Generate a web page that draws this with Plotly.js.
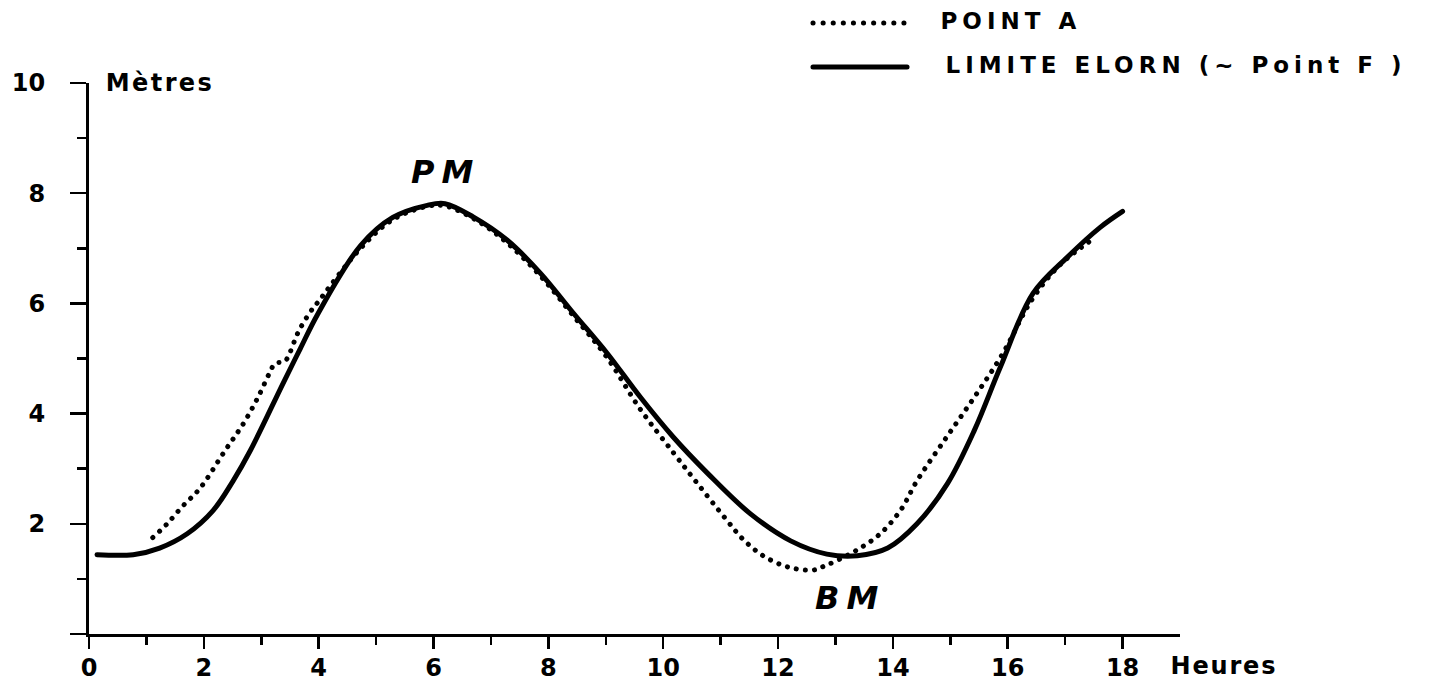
<!DOCTYPE html>
<html>
<head>
<meta charset="utf-8">
<script src="https://cdn.plot.ly/plotly-3.0.1.min.js"></script>
<style>
  html, body { margin: 0; padding: 0; background: #fff; }
  #chart { width: 1438px; height: 684px; }
  .js-line { stroke-linecap: round; stroke-linejoin: round; }
  .shapelayer path { stroke-linecap: round; }
  .annotation[data-index="0"] .annotation-text { letter-spacing: 2.4px; }
  .annotation[data-index="1"] .annotation-text { letter-spacing: 1.8px; }
  .annotation[data-index="2"] .annotation-text { letter-spacing: 7px; }
  .annotation[data-index="3"] .annotation-text { letter-spacing: 7px; }
  .annotation[data-index="4"] .annotation-text { letter-spacing: 5px; }
  .annotation[data-index="5"] .annotation-text { letter-spacing: 5px; }
</style>
</head>
<body>
<div id="chart"></div>
<script>
// ---- Data ----
const hoursF = [0.14, 0.77, 1.23, 1.71, 2.16, 2.51, 2.81, 3.38, 3.68, 3.98, 4.73, 5.29, 5.89, 6.2, 6.69, 7.28, 7.86, 8.43, 9.02, 9.6, 10.17, 10.77, 11.52, 12.22, 12.85, 13.38, 13.91, 14.42, 14.95, 15.42, 15.87, 16.44, 17.04, 17.61, 18.0];
const levelF = [1.44, 1.44, 1.56, 1.82, 2.24, 2.78, 3.33, 4.55, 5.18, 5.8, 7.05, 7.56, 7.78, 7.81, 7.57, 7.15, 6.55, 5.83, 5.10, 4.30, 3.58, 2.92, 2.18, 1.69, 1.45, 1.42, 1.56, 2.0, 2.73, 3.7, 4.84, 6.18, 6.84, 7.38, 7.67];

const hoursA = [1.11, 1.36, 1.64, 1.93, 2.37, 2.69, 2.94, 3.15, 3.24, 3.41, 3.5, 3.64, 3.85, 3.97, 4.73, 5.29, 5.89, 6.2, 6.76, 7.28, 7.86, 8.43, 9.02, 9.6, 10.17, 10.59, 11.08, 11.39, 11.74, 12.16, 12.61, 12.82, 13.08, 13.43, 13.78, 14.13, 14.42, 14.92, 15.42, 15.92, 16.41, 16.91, 17.53];
const levelA = [1.75, 2.0, 2.33, 2.64, 3.33, 3.82, 4.29, 4.75, 4.91, 4.95, 5.11, 5.47, 5.84, 6.0, 7.0, 7.52, 7.76, 7.77, 7.5, 7.1, 6.5, 5.78, 5.02, 4.08, 3.3, 2.74, 2.1, 1.72, 1.42, 1.22, 1.16, 1.24, 1.36, 1.56, 1.82, 2.24, 2.78, 3.55, 4.3, 5.1, 6.05, 6.7, 7.2];

const xTickVals = [0, 2, 4, 6, 8, 10, 12, 14, 16, 18];
const xTickText = ['0', '2', '4', '6', '8', '10', '12', '14', '16', '18'];
const xMinorVals = [1, 3, 5, 7, 9, 11, 13, 15, 17];
const yTickVals = [0, 2, 4, 6, 8, 10];
const yTickText = ['', '2', '4', '6', '8', '10'];
const yMinorVals = [1, 3, 5, 7, 9];

const seriesNames = ['POINT A', 'LIMITE ELORN (~ Point F )'];
const axisLabels = { y: 'Mètres', x: 'Heures' };
const eventLabels = ['PM', 'BM'];

// ---- Chart ----
const FONT = 'DejaVu Sans, Liberation Sans, Arial, sans-serif';

const traces = [
  {
    x: hoursA, y: levelA, name: seriesNames[0], mode: 'lines', type: 'scatter',
    line: { color: '#000', width: 5, dash: '0.1px,9px', shape: 'spline', smoothing: 1 },
    hoverinfo: 'skip', showlegend: false
  },
  {
    x: hoursF, y: levelF, name: seriesNames[1], mode: 'lines', type: 'scatter',
    line: { color: '#000', width: 5, shape: 'spline', smoothing: 1 },
    hoverinfo: 'skip', showlegend: false
  }
];

const tickFont = { family: FONT, size: 24, color: '#000', weight: 'bold' };

const layout = {
  width: 1438, height: 684,
  margin: { l: 89, r: 258, t: 83, b: 50, pad: 0 },
  paper_bgcolor: '#fff', plot_bgcolor: '#fff',
  showlegend: false,
  xaxis: {
    range: [0, 19], showgrid: false, zeroline: false, automargin: false,
    showline: true, linecolor: '#000', linewidth: 3,
    tickmode: 'array', tickvals: xTickVals, ticktext: xTickText,
    ticks: 'outside', ticklen: 12, tickwidth: 2.5, tickcolor: '#000',
    tickfont: tickFont, ticklabelstandoff: -2,
    minor: { tickvals: xMinorVals, ticks: 'outside', ticklen: 8, tickwidth: 2.5, tickcolor: '#000', showgrid: false }
  },
  yaxis: {
    range: [0, 10], showgrid: false, zeroline: false, automargin: false,
    showline: true, linecolor: '#000', linewidth: 3,
    tickmode: 'array', tickvals: yTickVals, ticktext: yTickText,
    ticks: 'outside', ticklen: 16, tickwidth: 2.5, tickcolor: '#000',
    tickfont: tickFont, ticklabelstandoff: 20,
    minor: { tickvals: yMinorVals, ticks: 'outside', ticklen: 9, tickwidth: 2.5, tickcolor: '#000', showgrid: false }
  },
  shapes: [
    { type: 'line', xref: 'paper', yref: 'paper', x0: 0.6636, x1: 0.7498, y0: 1.1089, y1: 1.1089,
      line: { color: '#000', width: 5, dash: '0.1px,10px' } },
    { type: 'line', xref: 'paper', yref: 'paper', x0: 0.6636, x1: 0.7498, y0: 1.029, y1: 1.029,
      line: { color: '#000', width: 5 } }
  ],
  annotations: [
    { text: axisLabels.y, xref: 'paper', yref: 'paper', x: 0.0651, y: 1.0, xanchor: 'center', yanchor: 'middle',
      showarrow: false, font: { family: FONT, size: 24, color: '#000', weight: 'bold' } },
    { text: axisLabels.x, xref: 'paper', yref: 'paper', x: 1.0403, y: -0.0581, xanchor: 'center', yanchor: 'middle',
      showarrow: false, font: { family: FONT, size: 24, color: '#000', weight: 'bold' } },
    { text: eventLabels[0], xref: 'x', yref: 'y', x: 6.2, y: 8.38, xanchor: 'center', yanchor: 'middle',
      showarrow: false, font: { family: FONT, size: 32, color: '#000', weight: 'bold', style: 'italic' } },
    { text: eventLabels[1], xref: 'x', yref: 'y', x: 13.26, y: 0.65, xanchor: 'center', yanchor: 'middle',
      showarrow: false, font: { family: FONT, size: 32, color: '#000', weight: 'bold', style: 'italic' } },
    { text: seriesNames[0], xref: 'paper', yref: 'paper', x: 0.8451, y: 1.1125, xanchor: 'center', yanchor: 'middle',
      showarrow: false, font: { family: FONT, size: 23, color: '#000', weight: 'bold' } },
    { text: seriesNames[1], xref: 'paper', yref: 'paper', x: 0.9963, y: 1.0318, xanchor: 'center', yanchor: 'middle',
      showarrow: false, font: { family: FONT, size: 23, color: '#000', weight: 'bold' } }
  ]
};

Plotly.newPlot('chart', traces, layout, { staticPlot: true, displayModeBar: false });
</script>
</body>
</html>
